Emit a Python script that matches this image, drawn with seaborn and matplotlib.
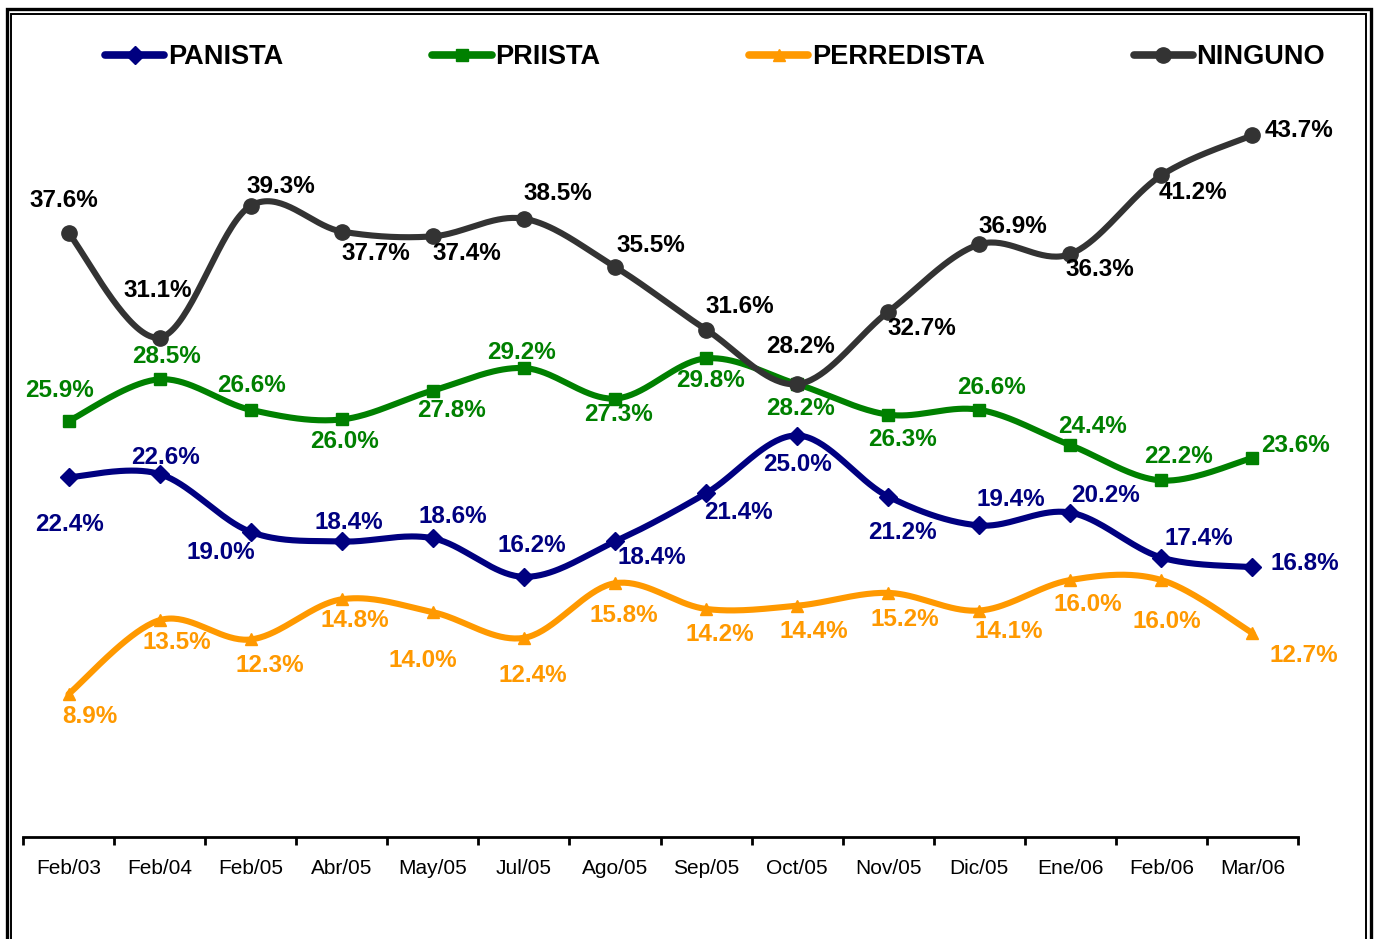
import numpy as np
import pandas as pd
import seaborn as sns
from matplotlib import pyplot as plt
from matplotlib.lines import Line2D
from matplotlib.patches import Rectangle

# --- data ---
meses = ["Feb/03", "Feb/04", "Feb/05", "Abr/05", "May/05", "Jul/05", "Ago/05",
         "Sep/05", "Oct/05", "Nov/05", "Dic/05", "Ene/06", "Feb/06", "Mar/06"]
panista = [22.4, 22.6, 19.0, 18.4, 18.6, 16.2, 18.4, 21.4, 25.0, 21.2, 19.4, 20.2, 17.4, 16.8]
priista = [25.9, 28.5, 26.6, 26.0, 27.8, 29.2, 27.3, 29.8, 28.2, 26.3, 26.6, 24.4, 22.2, 23.6]
perredista = [8.9, 13.5, 12.3, 14.8, 14.0, 12.4, 15.8, 14.2, 14.4, 15.2, 14.1, 16.0, 16.0, 12.7]
ninguno = [37.6, 31.1, 39.3, 37.7, 37.4, 38.5, 35.5, 31.6, 28.2, 32.7, 36.9, 36.3, 41.2, 43.7]
series = ["PANISTA", "PRIISTA", "PERREDISTA", "NINGUNO"]

# label offsets in image pixels (dx, dy; dy positive = down)
off_pan = [(1, 47), (6, -17), (-30, 21), (7, -19), (20, -22), (8, -31), (37, 16),
           (32, 19), (0, 29), (14, 36), (32, -26), (35, -17), (37, -19), (52, -4)]
off_pri = [(-9, -31), (7, -23), (1, -24), (3, 22), (19, 20), (-2, -16), (4, 16),
           (4, 22), (3, 24), (14, 25), (12, -22), (22, -19), (17, -24), (43, -12)]
off_per = [(21, 22), (17, 22), (19, 26), (13, 21), (-10, 48), (9, 38), (9, 32),
           (14, 26), (17, 26), (17, 27), (29, 21), (17, 24), (5, 41), (51, 22)]
off_nin = [(-5, -33), (-2, -47), (30, -19), (34, 22), (34, 17), (34, -25), (36, -21),
           (34, -23), (3, -38), (34, 17), (34, -18), (30, 15), (32, 17), (47, -5)]

colores = {"PANISTA": "#000080", "PRIISTA": "#008000",
           "PERREDISTA": "#FF9900", "NINGUNO": "#333333"}
txt_col = {"PANISTA": "#000080", "PRIISTA": "#008000",
           "PERREDISTA": "#FF9900", "NINGUNO": "#000000"}
marcas = {"PANISTA": "D", "PRIISTA": "s", "PERREDISTA": "^", "NINGUNO": "o"}
tamanos = {"PANISTA": 9, "PRIISTA": 8, "PERREDISTA": 8, "NINGUNO": 11}


def smooth(vals, n=40):
    # Excel-style smoothed line (Catmull-Rom as cubic Bezier)
    p = np.column_stack([np.arange(len(vals)), vals]).astype(float)
    t = np.linspace(0, 1, n)[:, None]
    out = []
    for i in range(len(p) - 1):
        p0 = p[i - 1] if i > 0 else p[i]
        p1, p2 = p[i], p[i + 1]
        p3 = p[i + 2] if i + 2 < len(p) else p[i + 1]
        b1 = p1 + (p2 - p0) / 6
        b2 = p2 - (p3 - p1) / 6
        seg = ((1 - t) ** 3) * p1 + 3 * ((1 - t) ** 2) * t * b1 \
            + 3 * (1 - t) * t ** 2 * b2 + t ** 3 * p2
        out.append(seg if i == 0 else seg[1:])
    return np.vstack(out)


valores = {"PANISTA": panista, "PRIISTA": priista,
           "PERREDISTA": perredista, "NINGUNO": ninguno}
offsets = {"PANISTA": off_pan, "PRIISTA": off_pri,
           "PERREDISTA": off_per, "NINGUNO": off_nin}

df = pd.concat([pd.DataFrame({"serie": s, "x": np.arange(len(meses)), "valor": valores[s]})
                for s in series], ignore_index=True)
curvas = []
for s in series:
    c = smooth(valores[s])
    curvas.append(pd.DataFrame({"serie": s, "x": c[:, 0], "y": c[:, 1]}))
df_curva = pd.concat(curvas, ignore_index=True)

sns.set_theme(style="white")
plt.rcParams["font.family"] = ["Liberation Sans", "DejaVu Sans"]
plt.rcParams["text.color"] = "black"

W, H = 1377, 939
fig = plt.figure(figsize=(W / 100, H / 100), dpi=100)
ax = fig.add_axes([23 / W, 102 / H, (1298 - 23) / W, (837 - 34) / H])

for s in series:
    sub = df_curva[df_curva["serie"] == s]
    sns.lineplot(data=sub, x="x", y="y", color=colores[s], linewidth=4.4,
                 sort=False, estimator=None, ax=ax, legend=False)
    pts = df[df["serie"] == s]
    ax.plot(pts["x"], pts["valor"], linestyle="none", marker=marcas[s],
            markersize=tamanos[s], color=colores[s], zorder=3)
    for (xi, yi), (dx, dy) in zip(zip(pts["x"], pts["valor"]), offsets[s]):
        ax.annotate(f"{yi:.1f}%", (xi, yi), xytext=(dx, -dy), textcoords="offset pixels",
                    ha="center", va="center", fontsize=17.5, fontweight="bold",
                    color=txt_col[s], zorder=4)

ax.set_xlim(-0.5, len(meses) - 0.5)
ax.set_ylim(0, 50)
ax.set_yticks([])
ax.set_xticks(np.arange(-0.5, len(meses), 1.0))
ax.set_xticklabels([])
ax.set_xticks(np.arange(len(meses)), minor=True)
ax.set_xticklabels(meses, minor=True, fontsize=15, color="black")
ax.tick_params(axis="x", which="major", direction="out", length=6, width=2,
               color="black", bottom=True)
ax.tick_params(axis="x", which="minor", length=0, pad=16, labelcolor="black")
for side in ["left", "top", "right"]:
    ax.spines[side].set_visible(False)
ax.spines["bottom"].set_color("black")
ax.spines["bottom"].set_linewidth(2)
ax.set_xlabel("")
ax.set_ylabel("")
ax.patch.set_alpha(0)

handles = [Line2D([], [], color=colores[s], linewidth=5.5, marker=marcas[s],
                  markersize=tamanos[s], solid_capstyle="round") for s in series]
leg = fig.legend(handles, series, loc="center", bbox_to_anchor=(715 / W, 882 / H), ncol=4,
                 frameon=False, prop={"size": 19.5, "weight": "bold"}, handlelength=2.2,
                 handletextpad=0.12, columnspacing=5.5, borderpad=0)
for t in leg.get_texts():
    t.set_color("black")

# double frame around the chart
fig.add_artist(Rectangle((6.5 / W, -0.05), (1371 - 6.5) / W, (H - 8.5) / H + 0.05,
                         transform=fig.transFigure, fill=False, edgecolor="black",
                         linewidth=2.4))
fig.add_artist(Rectangle((11 / W, -0.05), (1366 - 11) / W, (H - 14) / H + 0.05,
                         transform=fig.transFigure, fill=False, edgecolor="black",
                         linewidth=1.4))

fig.savefig("out.png", dpi=100)
